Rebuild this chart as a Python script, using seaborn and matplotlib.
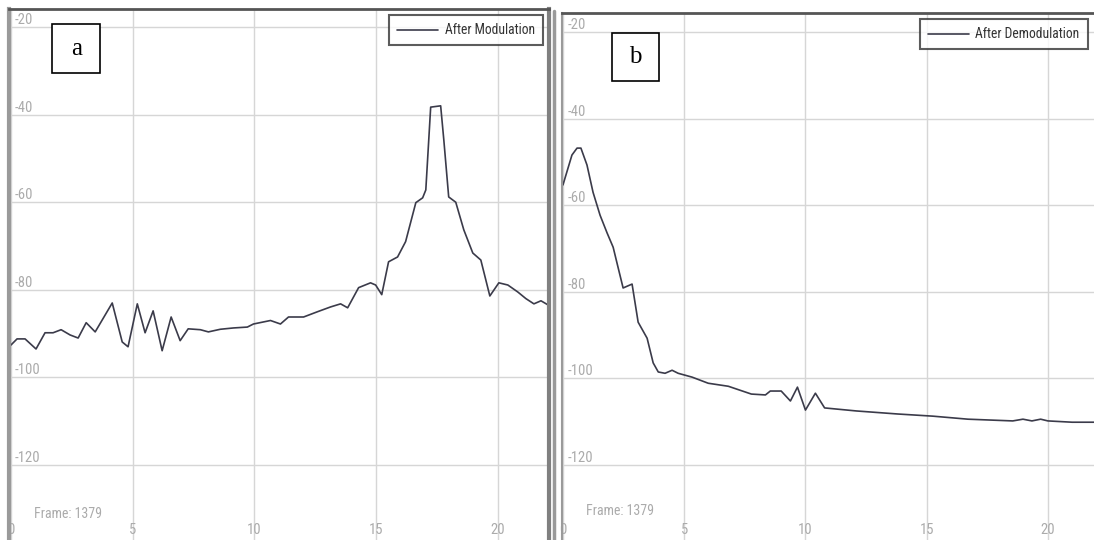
import matplotlib
matplotlib.use("Agg")
import matplotlib.pyplot as plt
import seaborn as sns
import pandas as pd
from matplotlib import font_manager
from matplotlib.patches import Rectangle
from matplotlib.lines import Line2D

# values
mod_x = [0, 0.25, 0.58, 1.03, 1.40, 1.73, 2.06, 2.43, 2.76, 3.09,
         3.46, 4.16, 4.57, 4.81, 5.19, 5.51, 5.84, 6.21, 6.58, 6.95,
         7.28, 7.78, 8.11, 8.60, 9.14, 9.71, 9.96, 10.66, 11.07, 11.40,
         12.02, 12.59, 13.13, 13.54, 13.83, 14.28, 14.77, 14.98, 15.23, 15.51,
         15.88, 16.21, 16.63, 16.91, 17.04, 17.24, 17.65, 17.78, 17.98, 18.27,
         18.60, 18.97, 19.30, 19.67, 20.04, 20.41, 20.82, 21.15, 21.48, 21.77,
         22.14]
mod_y = [-92.6, -91.2, -91.2, -93.5, -89.8, -89.8, -89.1, -90.3, -91.0, -87.5,
         -89.6, -83.0, -91.9, -93.0, -83.2, -89.8, -84.8, -93.9, -86.2, -91.6,
         -88.9, -89.1, -89.6, -89.0, -88.7, -88.5, -87.8, -87.0, -87.8, -86.2,
         -86.2, -85.0, -83.9, -83.2, -84.1, -79.5, -78.4, -78.9, -81.1, -73.6,
         -72.5, -69.0, -60.1, -59.0, -57.2, -38.3, -38.0, -45.8, -58.8, -60.0,
         -66.3, -71.6, -73.2, -81.4, -78.4, -78.9, -80.5, -82.0, -83.2, -82.5,
         -83.7]

dem_x = [0, 0.37, 0.58, 0.74, 0.99, 1.24, 1.53, 1.82, 2.07, 2.27,
         2.48, 2.85, 3.10, 3.47, 3.72, 3.93, 4.21, 4.50, 4.75, 5.33,
         5.99, 6.82, 7.77, 8.35, 8.55, 9.00, 9.38, 9.67, 10.00, 10.41,
         10.79, 12.10, 13.80, 15.25, 16.70, 18.55, 18.97, 19.34, 19.70, 20.00,
         21.00, 21.90]
dem_y = [-55.3, -48.4, -46.8, -46.8, -50.7, -57.0, -62.3, -66.4, -69.7, -74.3,
         -79.1, -78.2, -87.0, -90.7, -96.4, -98.5, -98.8, -98.1, -98.8, -99.7,
         -101.1, -101.8, -103.6, -103.8, -102.9, -102.9, -105.2, -102.0, -107.3, -103.4,
         -106.8, -107.5, -108.2, -108.7, -109.4, -109.8, -109.4, -109.8, -109.4, -109.8,
         -110.1, -110.1]

x_ticks = [0, 5, 10, 15, 20]
y_ticks = [-20, -40, -60, -80, -100, -120]
x_ticklabels = ["0", "5", "10", "15", "20"]
y_ticklabels = ["-20", "-40", "-60", "-80", "-100", "-120"]

labels = ["After Modulation", "After Demodulation"]
panel_tags = ["a", "b"]
frame_text = "Frame: 1379"

##################################################################

sns.set_theme(style="white")
names = {f.name for f in font_manager.fontManager.ttflist}
narrow = "DejaVu Sans"
for cand in ["Liberation Sans Narrow", "Roboto Condensed", "Open Sans Condensed", "Roboto"]:
    if cand in names:
        narrow = cand
        break
serif = "Liberation Serif" if "Liberation Serif" in names else "DejaVu Serif"
plt.rcParams["font.family"] = [narrow, "DejaVu Sans"]

W, H = 1094, 540
fig = plt.figure(figsize=(W / 100, H / 100), dpi=100)
fig.patch.set_facecolor("white")

# axes rectangles in pixels: left, top, right
boxes = [(9, 9, 549), (562, 13, 1094)]
xlims = [(-0.08, 22.1), (-0.04, 21.9)]
ylims = [(-137.1, -15.9), (-137.3, -15.6)]
tag_boxes = [(0.080, 0.879, 0.089, 0.093), (0.094, 0.871, 0.088, 0.091)]
frame_pos = [(0.046, 0.049), (0.045, 0.055)]

line_color = "#3b3b4a"
grid_color = "#d6d6d6"
tick_color = "#ababab"

data = [pd.DataFrame({"x": mod_x, "y": mod_y}),
        pd.DataFrame({"x": dem_x, "y": dem_y})]

for i in range(2):
    l, t, r = boxes[i]
    ax = fig.add_axes([l / W, 0, (r - l) / W, (H - t) / H])
    ax.set_facecolor("white")

    sns.lineplot(data=data[i], x="x", y="y", ax=ax, color=line_color,
                 linewidth=1.2, estimator=None, sort=False, label=labels[i])

    ax.set_xlim(*xlims[i])
    ax.set_ylim(*ylims[i])
    ax.set_xlabel("")
    ax.set_ylabel("")

    ax.set_xticks(x_ticks)
    ax.set_xticklabels(x_ticklabels)
    ax.set_yticks(y_ticks)
    ax.set_yticklabels(y_ticklabels)
    ax.grid(True, color=grid_color, linewidth=1.0)
    ax.set_axisbelow(True)

    ax.tick_params(axis="y", direction="in", length=0, pad=-4,
                   labelsize=10.5, labelcolor=tick_color)
    ax.tick_params(axis="x", direction="in", length=0, pad=-12,
                   labelsize=10.5, labelcolor=tick_color)
    for lbl in ax.get_yticklabels():
        lbl.set_horizontalalignment("left")
        lbl.set_verticalalignment("bottom")

    ax.spines["bottom"].set_visible(False)
    ax.spines["top"].set_color("#555555")
    ax.spines["top"].set_linewidth(2.0)
    if i == 0:
        ax.spines["left"].set_color("#9a9a9a")
        ax.spines["left"].set_linewidth(3)
        ax.spines["right"].set_color("#808080")
        ax.spines["right"].set_linewidth(3)
    else:
        ax.spines["left"].set_color("#9a9a9a")
        ax.spines["left"].set_linewidth(1.5)
        ax.spines["right"].set_visible(False)

    leg = ax.legend(loc="upper right", frameon=True, fancybox=False,
                    fontsize=9.8, handlelength=3.0, handletextpad=0.5,
                    borderpad=0.6, borderaxespad=0.45)
    leg.get_frame().set_edgecolor("#333333")
    leg.get_frame().set_linewidth(1.5)
    for txt in leg.get_texts():
        txt.set_color("#333333")

    bx, by, bw, bh = tag_boxes[i]
    ax.add_patch(Rectangle((bx, by), bw, bh, transform=ax.transAxes,
                           facecolor="white", edgecolor="black",
                           linewidth=1.2, zorder=5))
    ax.text(bx + bw / 2, by + bh / 2, panel_tags[i], transform=ax.transAxes,
            ha="center", va="center", fontsize=18, family=serif,
            color="black", zorder=6)

    ax.text(frame_pos[i][0], frame_pos[i][1], frame_text,
            transform=ax.transAxes, ha="left", va="center",
            fontsize=10, color=tick_color)

# separating frame line of the second panel
fig.add_artist(Line2D([554 / W, 554 / W], [0, 1 - 11 / H],
                      transform=fig.transFigure, color="#9a9a9a", linewidth=2.5))

fig.savefig("out.png", dpi=100, facecolor="white")
